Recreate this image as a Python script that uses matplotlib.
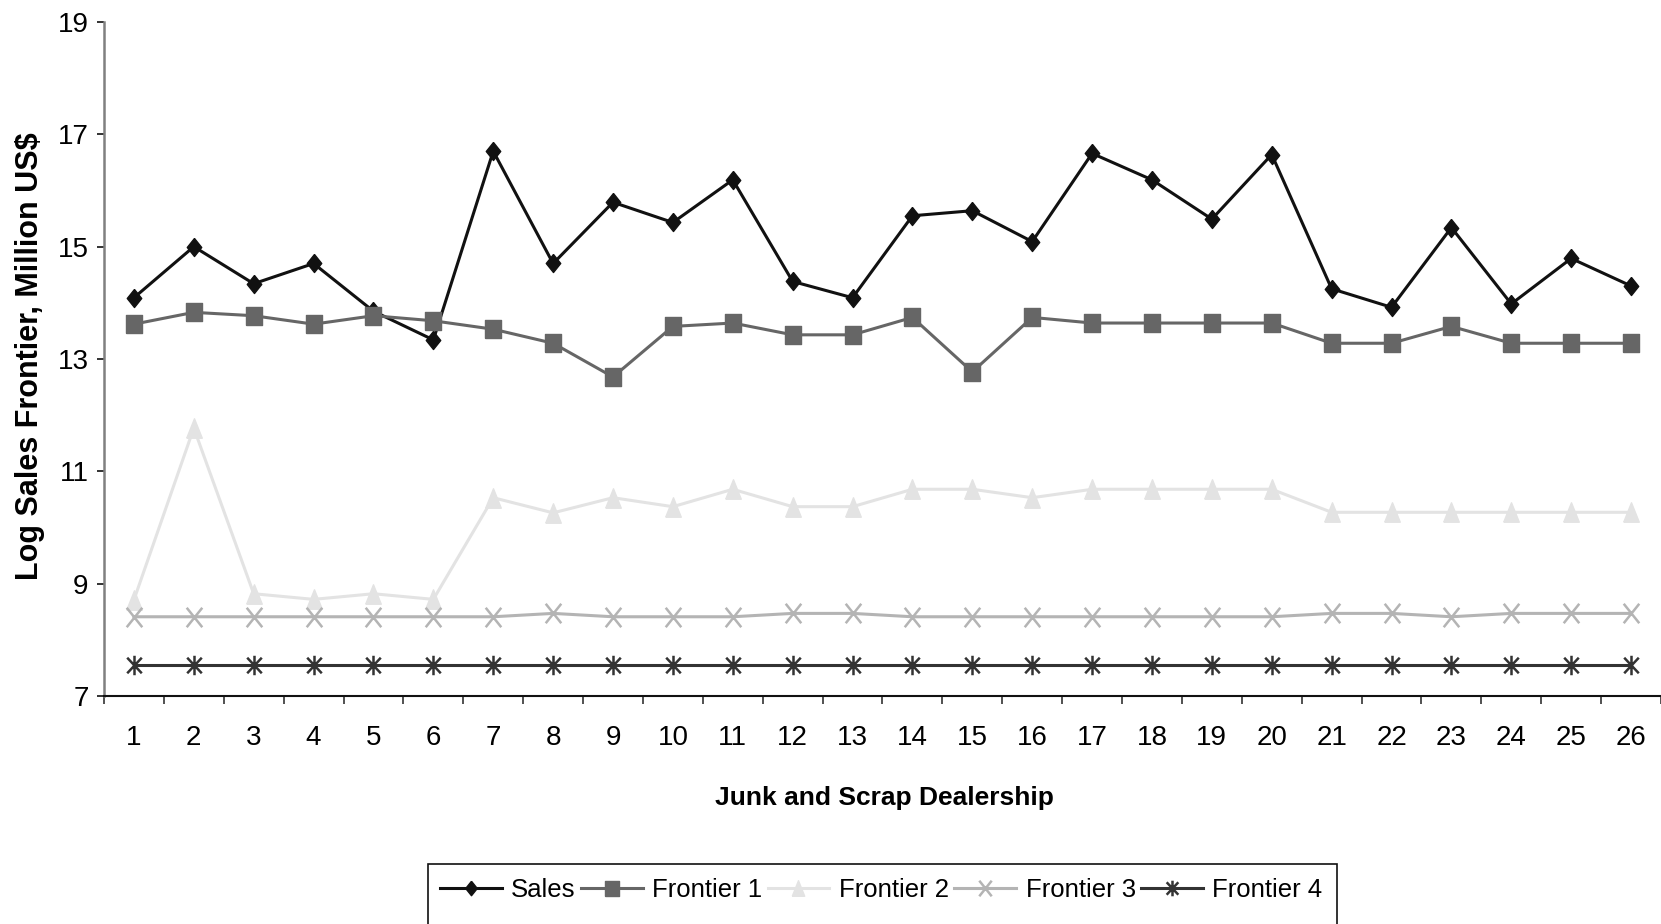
import numpy as np
import matplotlib
matplotlib.use("Agg")
import matplotlib.pyplot as plt
from matplotlib.path import Path
from matplotlib.patches import Rectangle

plt.rcParams['font.family'] = ['Liberation Sans', 'DejaVu Sans']

dealers = np.arange(1, 27)

sales = [14.09, 15.00, 14.34, 14.70, 13.85, 13.34, 16.70, 14.70, 15.79, 15.43,
         16.19, 14.38, 14.09, 15.55, 15.64, 15.09, 16.66, 16.19, 15.49, 16.64,
         14.25, 13.92, 15.34, 13.98, 14.79, 14.30]
frontier1 = [13.62, 13.83, 13.77, 13.62, 13.77, 13.68, 13.53, 13.28, 12.68, 13.58,
             13.64, 13.43, 13.43, 13.74, 12.77, 13.74, 13.64, 13.64, 13.64, 13.64,
             13.28, 13.28, 13.58, 13.28, 13.28, 13.28]
frontier2 = [8.71, 11.77, 8.82, 8.72, 8.82, 8.72, 10.53, 10.26, 10.53, 10.37,
             10.68, 10.37, 10.37, 10.68, 10.68, 10.53, 10.68, 10.68, 10.68, 10.68,
             10.27, 10.27, 10.27, 10.27, 10.27, 10.27]
frontier3 = [8.41, 8.41, 8.41, 8.41, 8.41, 8.41, 8.41, 8.47, 8.41, 8.41,
             8.41, 8.47, 8.47, 8.41, 8.41, 8.41, 8.41, 8.41, 8.41, 8.41,
             8.47, 8.47, 8.41, 8.47, 8.47, 8.47]
frontier4 = [7.55] * 26

series_names = ["Sales", "Frontier 1", "Frontier 2", "Frontier 3", "Frontier 4"]
y_ticks = [7, 9, 11, 13, 15, 17, 19]

# marker shapes (slightly taller than wide)
diamond = Path([(0, 1), (0.8, 0), (0, -1), (-0.8, 0), (0, 1)])
square = Path([(-0.9, -1), (0.9, -1), (0.9, 1), (-0.9, 1), (-0.9, -1)])
triangle = Path([(-0.8, -1), (0.8, -1), (0, 1), (-0.8, -1)])
cross = Path([(-0.8, -1), (0.8, 1), (-0.8, 1), (0.8, -1)],
             [Path.MOVETO, Path.LINETO, Path.MOVETO, Path.LINETO])
aster = Path([(0, -1), (0, 1), (-0.75, -0.8), (0.75, 0.8), (-0.75, 0.8), (0.75, -0.8)],
             [Path.MOVETO, Path.LINETO, Path.MOVETO, Path.LINETO, Path.MOVETO, Path.LINETO])

fig = plt.figure(figsize=(16.61, 9.24), dpi=100)
ax = fig.add_axes([0.0626, 0.2468, 0.9374, 0.7294])

ax.plot(dealers, sales, color="#111111", lw=2.2, marker=diamond, ms=13,
        mfc="#111111", mec="#111111", label=series_names[0])
ax.plot(dealers, frontier1, color="#666666", lw=2.2, marker=square, ms=13.5,
        mfc="#666666", mec="#666666", label=series_names[1])
ax.plot(dealers, frontier2, color="#e3e3e3", lw=2.2, marker=triangle, ms=14,
        mfc="#e3e3e3", mec="#e3e3e3", label=series_names[2])
ax.plot(dealers, frontier3, color="#b4b4b4", lw=2.2, marker=cross, ms=14,
        mfc="none", mec="#b4b4b4", mew=1.8, label=series_names[3])
ax.plot(dealers, frontier4, color="#333333", lw=2.2, marker=aster, ms=14,
        mfc="none", mec="#333333", mew=1.8, label=series_names[4])

ax.set_xlim(0.5, 26.5)
ax.set_ylim(7, 19)
ax.set_yticks(y_ticks)
ax.set_xticks(dealers)
ax.set_xticks(np.arange(0.5, 27, 1), minor=True)
ax.tick_params(axis='x', which='major', length=0, pad=21, labelsize=20)
ax.tick_params(axis='x', which='minor', length=6, width=1.2, color="#333333", direction='out')
ax.tick_params(axis='y', length=5, width=1.2, pad=6, labelsize=20, color="#111111")

for s in ["top", "right"]:
    ax.spines[s].set_visible(False)
ax.spines["left"].set_color("#808080")
ax.spines["left"].set_linewidth(1.8)
ax.spines["bottom"].set_color("#111111")
ax.spines["bottom"].set_linewidth(1.5)

ax.set_ylabel("Log Sales Frontier, Million US$", fontsize=22, fontweight='bold', va='center')
ax.yaxis.set_label_coords(-0.0476, 0.504)
ax.set_xlabel("Junk and Scrap Dealership", fontsize=19, fontweight='bold', va='center')
ax.xaxis.set_label_coords(0.501, -0.151)

leg = fig.legend(loc='center', bbox_to_anchor=(0.5305, 0.0368), ncol=5, frameon=False,
                 fontsize=18.5, handlelength=2.4, handletextpad=0.38, columnspacing=0.2,
                 borderpad=0, markerscale=0.8)
fig.patches.append(Rectangle((428 / 1661, -0.05), (1337 - 428) / 1661, 0.05 + (924 - 864) / 924,
                             transform=fig.transFigure, fill=False, edgecolor="#111111",
                             lw=1.2, clip_on=False))

fig.savefig("out.png", dpi=100, facecolor="white")
